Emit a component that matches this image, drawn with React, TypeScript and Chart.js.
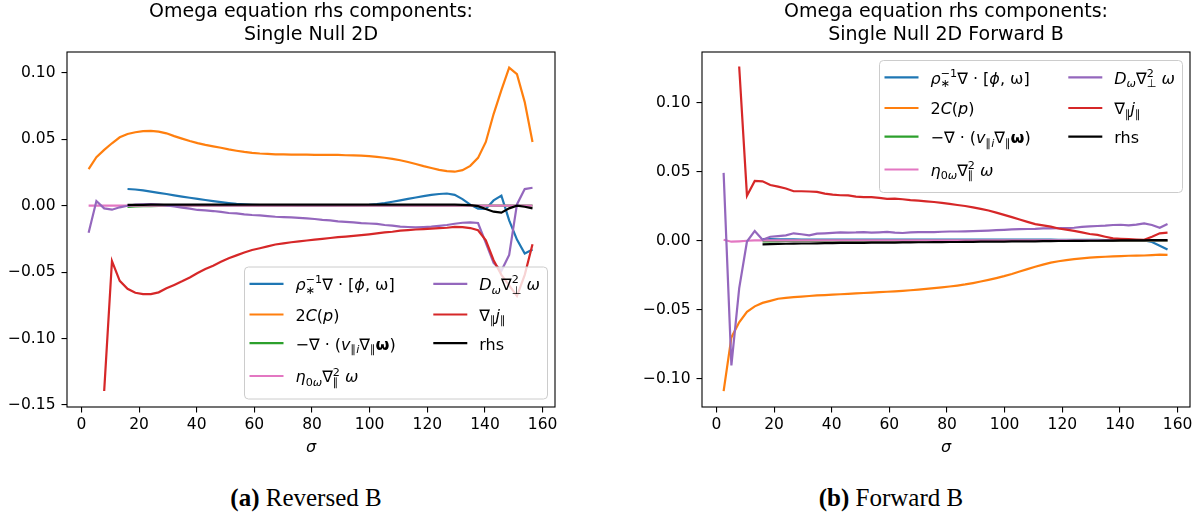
import React, { useEffect, useRef } from "react";
import { Chart, registerables } from "chart.js";

Chart.register(...registerables);

// ---------------- data ----------------
const SIGMA = [
  2.5, 5.2, 7.9, 10.6, 13.3, 16.0, 18.7, 21.4, 24.1, 26.8,
  29.5, 32.2, 34.9, 37.6, 40.3, 43.0, 45.7, 48.4, 51.1, 53.8,
  56.5, 59.2, 61.9, 64.6, 67.3, 70.1, 72.8, 75.5, 78.2, 80.9,
  83.6, 86.3, 89.0, 91.7, 94.4, 97.1, 99.8, 102.5, 105.2, 107.9,
  110.6, 113.3, 116.0, 118.7, 121.4, 124.1, 126.8, 129.5, 132.2, 134.9,
  137.6, 140.3, 143.0, 145.7, 148.4, 151.1, 153.8, 156.5,
];

const X_TICKS = [0, 20, 40, 60, 80, 100, 120, 140, 160];
const Y_TICKS_REV = [-0.15, -0.1, -0.05, 0, 0.05, 0.1];
const Y_TICKS_FWD = [-0.1, -0.05, 0, 0.05, 0.1];
const X_RANGE = [-5.0, 164.3];
const Y_RANGE_REV = [-0.1515, 0.1157];
const Y_RANGE_FWD = [-0.1205, 0.137];

const TITLE_REV = ["Omega equation rhs components:", "Single Null 2D"];
const TITLE_FWD = ["Omega equation rhs components:", "Single Null 2D Forward B"];
const CAPTION_REV = ["(a)", " Reversed B"];
const CAPTION_FWD = ["(b)", " Forward B"];
const X_LABEL = "σ";

const SERIES_NAMES = ["ρ∗⁻¹∇·[ϕ, ω]", "2C(p)", "−∇·(v∥i∇∥ω)", "η0ω∇²∥ω", "Dω∇²⊥ω", "∇∥j∥", "rhs"];
const SERIES_COLORS = ["#1f77b4", "#ff7f0e", "#2ca02c", "#e377c2", "#9467bd", "#d62728", "#000000"];

// ---- Reversed B ----
const REV_ADV = [
  null, null, null, null, null, 0.0126, 0.0122, 0.0115, 0.0106, 0.0097,
  0.0088, 0.0078, 0.0069, 0.0060, 0.0052, 0.0043, 0.0035, 0.0027, 0.0020, 0.0014,
  0.0010, 0.0007, 0.0005, 0.0004, 0.0003, 0.0002, 0.0002, 0.0001, 0.0001, 0.0001,
  0.0001, 0.0001, 0.0002, 0.0002, 0.0003, 0.0004, 0.0006, 0.0012, 0.0020, 0.0030,
  0.0040, 0.0051, 0.0062, 0.0072, 0.0081, 0.0088, 0.0092, 0.0082, 0.0050, 0.0008,
  -0.0022, -0.0024, 0.0040, 0.0076, -0.0110, -0.0255, -0.0360, -0.0330,
];
const REV_CURV = [
  0.0276, 0.0365, 0.0420, 0.0470, 0.0515, 0.0540, 0.0553, 0.0561, 0.0563, 0.0558,
  0.0545, 0.0524, 0.0505, 0.0487, 0.0471, 0.0458, 0.0447, 0.0436, 0.0424, 0.0414,
  0.0405, 0.0398, 0.0393, 0.0390, 0.0387, 0.0386, 0.0385, 0.0384, 0.0384, 0.0383,
  0.0383, 0.0382, 0.0382, 0.0380, 0.0379, 0.0377, 0.0373, 0.0368, 0.0361, 0.0352,
  0.0342, 0.0329, 0.0314, 0.0298, 0.0284, 0.0270, 0.0261, 0.0256, 0.0268, 0.0300,
  0.0360, 0.0480, 0.0690, 0.0870, 0.1040, 0.0990, 0.0780, 0.0480,
];
const REV_PARADV = [
  null, null, null, null, null, -0.0008, -0.0006, -0.0004, -0.0003, -0.0002,
  -0.0001, 0, 0, 0, 0, 0, 0, 0, 0, 0,
  0, 0, 0, 0, 0, 0, 0, 0, 0, 0,
  0, 0, 0, 0, 0, 0, 0, 0, 0, 0,
  0, 0, 0, 0, 0, 0, 0, 0, 0, 0,
  0, 0, 0, 0, 0, 0, 0, 0,
];
const REV_VISC_PAR = [
  0, 0, 0, 0, 0, 0, 0, 0, 0, 0,
  0, 0, 0, 0, 0, 0, 0, 0, 0, 0,
  0, 0, 0, 0, 0, 0, 0, 0, 0, 0,
  0, 0, 0, 0, 0, 0, 0, 0, 0, 0,
  0, 0, 0, 0, 0, 0, 0, 0, 0, 0,
  0, 0, 0, 0, 0, 0, 0, 0,
];
const REV_VISC_PERP = [
  -0.0203, 0.0035, -0.0020, -0.0030, -0.0012, 0.0000, 0.0008, 0.0011, 0.0013, 0.0009,
  0.0003, -0.0005, -0.0014, -0.0022, -0.0032, -0.0035, -0.0040, -0.0047, -0.0055, -0.0058,
  -0.0065, -0.0070, -0.0073, -0.0078, -0.0083, -0.0086, -0.0088, -0.0091, -0.0095, -0.0100,
  -0.0106, -0.0110, -0.0118, -0.0121, -0.0126, -0.0131, -0.0134, -0.0137, -0.0145, -0.0150,
  -0.0158, -0.0160, -0.0163, -0.0161, -0.0158, -0.0152, -0.0145, -0.0136, -0.0128, -0.0125,
  -0.0130, -0.0280, -0.0430, -0.0490, -0.0370, 0.0010, 0.0125, 0.0135,
];
const REV_DIVJ = [
  null, null, -0.1395, -0.0416, -0.0565, -0.0625, -0.0655, -0.0665, -0.0665, -0.0652,
  -0.0622, -0.0596, -0.0569, -0.0540, -0.0507, -0.0477, -0.0451, -0.0422, -0.0395, -0.0374,
  -0.0352, -0.0333, -0.0320, -0.0306, -0.0292, -0.0283, -0.0275, -0.0268, -0.0262, -0.0255,
  -0.0249, -0.0243, -0.0236, -0.0232, -0.0227, -0.0221, -0.0215, -0.0208, -0.0201, -0.0196,
  -0.0188, -0.0184, -0.0179, -0.0176, -0.0173, -0.0169, -0.0166, -0.0160, -0.0161, -0.0168,
  -0.0185, -0.0260, -0.0410, -0.0520, -0.0600, -0.0680, -0.0520, -0.0290,
];
const REV_RHS = [
  null, null, null, null, null, 0.0006, 0.0007, 0.0007, 0.0008, 0.0008,
  0.0008, 0.0008, 0.0008, 0.0008, 0.0008, 0.0008, 0.0008, 0.0008, 0.0008, 0.0008,
  0.0008, 0.0008, 0.0008, 0.0008, 0.0008, 0.0008, 0.0008, 0.0008, 0.0008, 0.0008,
  0.0008, 0.0008, 0.0008, 0.0008, 0.0008, 0.0008, 0.0008, 0.0008, 0.0008, 0.0008,
  0.0008, 0.0008, 0.0008, 0.0008, 0.0008, 0.0008, 0.0008, 0.0008, 0.0007, 0.0005,
  -0.0003, -0.0025, -0.0045, -0.0052, -0.0020, 0.0000, -0.0008, -0.0020,
];

// ---- Forward B ----
const FWD_ADV = [
  null, null, null, null, null, 0.0012, 0.0012, 0.0011, 0.0011, 0.0011,
  0.0010, 0.0010, 0.0010, 0.0010, 0.0010, 0.0010, 0.0010, 0.0010, 0.0010, 0.0010,
  0.0010, 0.0010, 0.0010, 0.0010, 0.0010, 0.0010, 0.0010, 0.0010, 0.0010, 0.0010,
  0.0010, 0.0010, 0.0010, 0.0010, 0.0010, 0.0010, 0.0010, 0.0010, 0.0010, 0.0009,
  0.0009, 0.0009, 0.0009, 0.0008, 0.0008, 0.0008, 0.0007, 0.0007, 0.0007, 0.0006,
  0.0006, 0.0006, 0.0005, 0.0005, 0.0003, -0.0008, -0.0035, -0.0063,
];
const FWD_CURV = [
  -0.1090, -0.0700, -0.0590, -0.0515, -0.0475, -0.0450, -0.0435, -0.0420, -0.0413, -0.0408,
  -0.0404, -0.0400, -0.0396, -0.0393, -0.0390, -0.0387, -0.0384, -0.0381, -0.0378, -0.0375,
  -0.0372, -0.0369, -0.0366, -0.0362, -0.0358, -0.0353, -0.0348, -0.0343, -0.0337, -0.0331,
  -0.0324, -0.0316, -0.0306, -0.0295, -0.0283, -0.0270, -0.0256, -0.0240, -0.0222, -0.0205,
  -0.0188, -0.0172, -0.0158, -0.0148, -0.0140, -0.0133, -0.0127, -0.0122, -0.0118, -0.0115,
  -0.0112, -0.0110, -0.0108, -0.0107, -0.0106, -0.0103, -0.0100, -0.0102,
];
const FWD_PARADV = [
  null, null, null, null, null, -0.0004, -0.0003, -0.0002, -0.0001, 0,
  0, 0, 0, 0, 0, 0, 0, 0, 0, 0,
  0, 0, 0, 0, 0, 0, 0, 0, 0, 0,
  0, 0, 0, 0, 0, 0, 0, 0, 0, 0,
  0, 0, 0, 0, 0, 0, 0, 0, 0, 0,
  0, 0, 0, 0, 0, 0, 0, 0,
];
const FWD_VISC_PAR = [
  0.0008, -0.0006, -0.0003, 0.0001, 0.0003, 0.0004, 0.0004, 0.0004, 0.0004, 0.0004,
  0.0004, 0.0004, 0.0004, 0.0004, 0.0004, 0.0004, 0.0004, 0.0004, 0.0004, 0.0004,
  0.0004, 0.0004, 0.0004, 0.0004, 0.0004, 0.0004, 0.0004, 0.0004, 0.0004, 0.0004,
  0.0004, 0.0004, 0.0004, 0.0004, 0.0004, 0.0004, 0.0004, 0.0004, 0.0004, 0.0004,
  0.0004, 0.0004, 0.0004, 0.0004, 0.0004, 0.0004, 0.0004, 0.0004, 0.0004, 0.0004,
  0.0004, 0.0004, 0.0004, 0.0004, 0.0004, 0.0004, 0.0004, 0.0004,
];
const FWD_VISC_PERP = [
  0.0493, -0.0903, -0.0345, -0.0005, 0.0072, 0.0008, 0.0030, 0.0035, 0.0040, 0.0055,
  0.0048, 0.0040, 0.0052, 0.0055, 0.0058, 0.0061, 0.0060, 0.0061, 0.0064, 0.0060,
  0.0062, 0.0065, 0.0060, 0.0057, 0.0062, 0.0064, 0.0063, 0.0064, 0.0066, 0.0068,
  0.0068, 0.0069, 0.0071, 0.0073, 0.0075, 0.0078, 0.0080, 0.0083, 0.0085, 0.0086,
  0.0087, 0.0090, 0.0091, 0.0092, 0.0093, 0.0095, 0.0101, 0.0105, 0.0108, 0.0110,
  0.0115, 0.0117, 0.0113, 0.0118, 0.0127, 0.0115, 0.0095, 0.0122,
];
const FWD_DIVJ = [
  null, null, 0.1265, 0.0328, 0.0435, 0.0432, 0.0405, 0.0393, 0.0380, 0.0360,
  0.0360, 0.0358, 0.0355, 0.0343, 0.0335, 0.0331, 0.0330, 0.0321, 0.0317, 0.0318,
  0.0312, 0.0305, 0.0306, 0.0302, 0.0296, 0.0292, 0.0287, 0.0282, 0.0275, 0.0268,
  0.0260, 0.0253, 0.0243, 0.0232, 0.0220, 0.0205, 0.0189, 0.0172, 0.0155, 0.0138,
  0.0122, 0.0113, 0.0103, 0.0090, 0.0081, 0.0073, 0.0062, 0.0050, 0.0043, 0.0030,
  0.0018, 0.0015, 0.0012, 0.0010, 0.0008, 0.0030, 0.0055, 0.0060,
];
const FWD_RHS = [
  null, null, null, null, null, -0.0025, -0.0023, -0.0022, -0.0021, -0.0020,
  -0.0019, -0.0019, -0.0018, -0.0017, -0.0016, -0.0015, -0.0015, -0.0014, -0.0014, -0.0013,
  -0.0013, -0.0012, -0.0012, -0.0011, -0.0011, -0.0010, -0.0010, -0.0009, -0.0009, -0.0008,
  -0.0008, -0.0007, -0.0007, -0.0006, -0.0006, -0.0005, -0.0005, -0.0004, -0.0004, -0.0003,
  -0.0003, -0.0002, -0.0002, -0.0001, -0.0001, 0.0000, 0.0000, 0.0001, 0.0001, 0.0002,
  0.0002, 0.0003, 0.0003, 0.0004, 0.0004, 0.0005, 0.0005, 0.0005,
];

const REV_SERIES = [REV_ADV, REV_CURV, REV_PARADV, REV_VISC_PAR, REV_VISC_PERP, REV_DIVJ, REV_RHS];
const FWD_SERIES = [FWD_ADV, FWD_CURV, FWD_PARADV, FWD_VISC_PAR, FWD_VISC_PERP, FWD_DIVJ, FWD_RHS];

// rich legend labels (math-like)
type Seg = { t: string; f?: "i" | "b"; s?: "sub" | "sup"; back?: boolean };
const LEGEND_RICH: Seg[][] = [
  [{ t: "ρ", f: "i" }, { t: "∗", s: "sub" }, { t: "−1", s: "sup", back: true }, { t: "∇ · [" }, { t: "ϕ", f: "i" }, { t: ", ω]" }],
  [{ t: "2" }, { t: "C", f: "i" }, { t: "(" }, { t: "p", f: "i" }, { t: ")" }],
  [{ t: "−∇ · (" }, { t: "v", f: "i" }, { t: "∥", s: "sub" }, { t: "i", f: "i", s: "sub" }, { t: "∇" }, { t: "∥", s: "sub" }, { t: "ω", f: "b" }, { t: ")" }],
  [{ t: "η", f: "i" }, { t: "0", s: "sub" }, { t: "ω", f: "i", s: "sub" }, { t: "∇" }, { t: "2", s: "sup" }, { t: "∥", s: "sub", back: true }, { t: " ω", f: "i" }],
  [{ t: "D", f: "i" }, { t: "ω", f: "i", s: "sub" }, { t: "∇" }, { t: "2", s: "sup" }, { t: "⊥", s: "sub", back: true }, { t: " ω", f: "i" }],
  [{ t: "∇" }, { t: "∥", s: "sub" }, { t: "j", f: "i" }, { t: "∥", s: "sub" }],
  [{ t: "rhs" }],
];

const FONT = '"DejaVu Sans"';

function drawRich(ctx: CanvasRenderingContext2D, segs: Seg[], x: number, y: number, size: number) {
  let cx = x;
  let lastStart = x;
  let lastEnd = x;
  for (const sg of segs) {
    const sc = sg.s ? 0.7 : 1;
    const fs = size * sc;
    const style = sg.f === "i" ? "italic " : sg.f === "b" ? "bold " : "";
    ctx.font = `${style}${fs}px ${FONT}`;
    const startX = sg.back ? lastStart : cx;
    const dy = sg.s === "sub" ? size * 0.22 : sg.s === "sup" ? -size * 0.42 : 0;
    ctx.fillText(sg.t, startX, y + dy);
    const w = ctx.measureText(sg.t).width;
    const end = startX + w;
    cx = sg.back ? Math.max(lastEnd, end) : end;
    lastStart = startX;
    lastEnd = end;
  }
}

function makeDecor(title: string[], legendLoc: "lr" | "ur") {
  return {
    id: "decor",
    afterDraw(chart: any) {
      const ctx: CanvasRenderingContext2D = chart.ctx;
      const a = chart.chartArea;
      ctx.save();
      // axes frame
      ctx.strokeStyle = "#000";
      ctx.lineWidth = 1.1;
      ctx.strokeRect(a.left, a.top, a.right - a.left, a.bottom - a.top);
      // title
      const cx = (a.left + a.right) / 2;
      ctx.fillStyle = "#000";
      ctx.textAlign = "center";
      ctx.textBaseline = "middle";
      ctx.font = `19px ${FONT}`;
      ctx.fillText(title[0], cx, 12);
      ctx.fillText(title[1], cx, 35);
      // x label
      ctx.textBaseline = "alphabetic";
      ctx.font = `italic 16px ${FONT}`;
      ctx.fillText(X_LABEL, cx, 452);
      // legend
      const W = 303;
      const H = 132;
      const bx = a.right - 8 - W;
      const by = legendLoc === "lr" ? a.bottom - 8.5 - H : a.top + 8;
      ctx.beginPath();
      (ctx as any).roundRect(bx + 0.5, by + 0.5, W, H, 4);
      ctx.fillStyle = "rgba(255,255,255,0.8)";
      ctx.fill();
      ctx.strokeStyle = "#cccccc";
      ctx.lineWidth = 1;
      ctx.stroke();
      const rows = [17.3, 48, 76.7, 109.5];
      ctx.textAlign = "left";
      ctx.fillStyle = "#000";
      for (let k = 0; k < LEGEND_RICH.length; k++) {
        const col = k < 4 ? 0 : 1;
        const row = k < 4 ? k : k - 4;
        const hx = bx + (col === 0 ? 5.5 : 189.3);
        const tx = bx + (col === 0 ? 51.5 : 235.3);
        const hy = by + rows[row];
        ctx.beginPath();
        ctx.moveTo(hx, hy);
        ctx.lineTo(hx + 34, hy);
        ctx.strokeStyle = SERIES_COLORS[k];
        ctx.lineWidth = 2.2;
        ctx.stroke();
        ctx.fillStyle = "#000";
        drawRich(ctx, LEGEND_RICH[k], tx, hy + 6.3, 16);
      }
      ctx.restore();
    },
  };
}

function fmtY(v: number) {
  return v.toFixed(2).replace("-", "−");
}

type PanelProps = {
  left: number;
  width: number;
  padRight: number;
  yAxisWidth: number;
  series: (number | null)[][];
  yRange: number[];
  yTicks: number[];
  title: string[];
  legendLoc: "lr" | "ur";
};

function Panel(p: PanelProps) {
  const ref = useRef<HTMLCanvasElement>(null);
  useEffect(() => {
    const canvas = ref.current;
    if (!canvas) return;
    const tickFont = { family: "DejaVu Sans", size: 15.5 };
    const chart = new Chart(canvas, {
      type: "line",
      data: {
        datasets: p.series.map((arr, k) => ({
          label: SERIES_NAMES[k],
          data: SIGMA.map((x, i) => ({ x, y: arr[i] })),
          borderColor: SERIES_COLORS[k],
          backgroundColor: SERIES_COLORS[k],
          borderWidth: 2.2,
          pointRadius: 0,
          tension: 0,
          fill: false,
          spanGaps: false,
          order: p.series.length - k,
        })),
      },
      options: {
        responsive: false,
        animation: false,
        devicePixelRatio: 1,
        events: [],
        layout: { padding: { top: 52, left: 0, right: p.padRight, bottom: 0 }, autoPadding: false },
        plugins: { legend: { display: false }, title: { display: false }, tooltip: { enabled: false } },
        scales: {
          x: {
            type: "linear",
            min: X_RANGE[0],
            max: X_RANGE[1],
            afterBuildTicks: (s: any) => {
              s.ticks = X_TICKS.map((v) => ({ value: v }));
            },
            afterFit: (s: any) => {
              s.height = 63;
            },
            grid: { drawOnChartArea: false, drawTicks: true, tickLength: 5.5, color: "#000", lineWidth: 1.1 },
            border: { display: false },
            ticks: {
              font: tickFont,
              color: "#000",
              padding: 3,
              maxRotation: 0,
              autoSkip: false,
              callback: (v: any) => String(v),
            },
          },
          y: {
            type: "linear",
            min: p.yRange[0],
            max: p.yRange[1],
            afterBuildTicks: (s: any) => {
              s.ticks = p.yTicks.map((v) => ({ value: v }));
            },
            afterFit: (s: any) => {
              s.width = p.yAxisWidth;
            },
            grid: { drawOnChartArea: false, drawTicks: true, tickLength: 5.5, color: "#000", lineWidth: 1.1 },
            border: { display: false },
            ticks: {
              font: tickFont,
              color: "#000",
              padding: 6,
              autoSkip: false,
              callback: (v: any) => fmtY(Number(v)),
            },
          },
        },
      },
      plugins: [makeDecor(p.title, p.legendLoc)],
    } as any);
    return () => chart.destroy();
  }, []);
  return (
    <canvas
      ref={ref}
      width={p.width}
      height={470}
      style={{ position: "absolute", left: p.left, top: 0, width: p.width, height: 470 }}
    />
  );
}

const captionStyle: React.CSSProperties = {
  position: "absolute",
  top: 484,
  textAlign: "center",
  fontFamily: '"Liberation Serif", serif',
  fontSize: 25,
  lineHeight: "28px",
  color: "#000",
  whiteSpace: "nowrap",
};

export default function App() {
  return (
    <div style={{ position: "fixed", left: 0, top: 0, width: 1203, height: 524, background: "#fff", overflow: "hidden" }}>
      <Panel
        left={0}
        width={600}
        padRight={45}
        yAxisWidth={67}
        series={REV_SERIES}
        yRange={Y_RANGE_REV}
        yTicks={Y_TICKS_REV}
        title={TITLE_REV}
        legendLoc="lr"
      />
      <Panel
        left={600}
        width={603}
        padRight={13}
        yAxisWidth={102}
        series={FWD_SERIES}
        yRange={Y_RANGE_FWD}
        yTicks={Y_TICKS_FWD}
        title={TITLE_FWD}
        legendLoc="ur"
      />
      <div style={{ ...captionStyle, left: 0, width: 612 }}>
        <b>{CAPTION_REV[0]}</b>
        {CAPTION_REV[1]}
      </div>
      <div style={{ ...captionStyle, left: 600, width: 582 }}>
        <b>{CAPTION_FWD[0]}</b>
        {CAPTION_FWD[1]}
      </div>
    </div>
  );
}
